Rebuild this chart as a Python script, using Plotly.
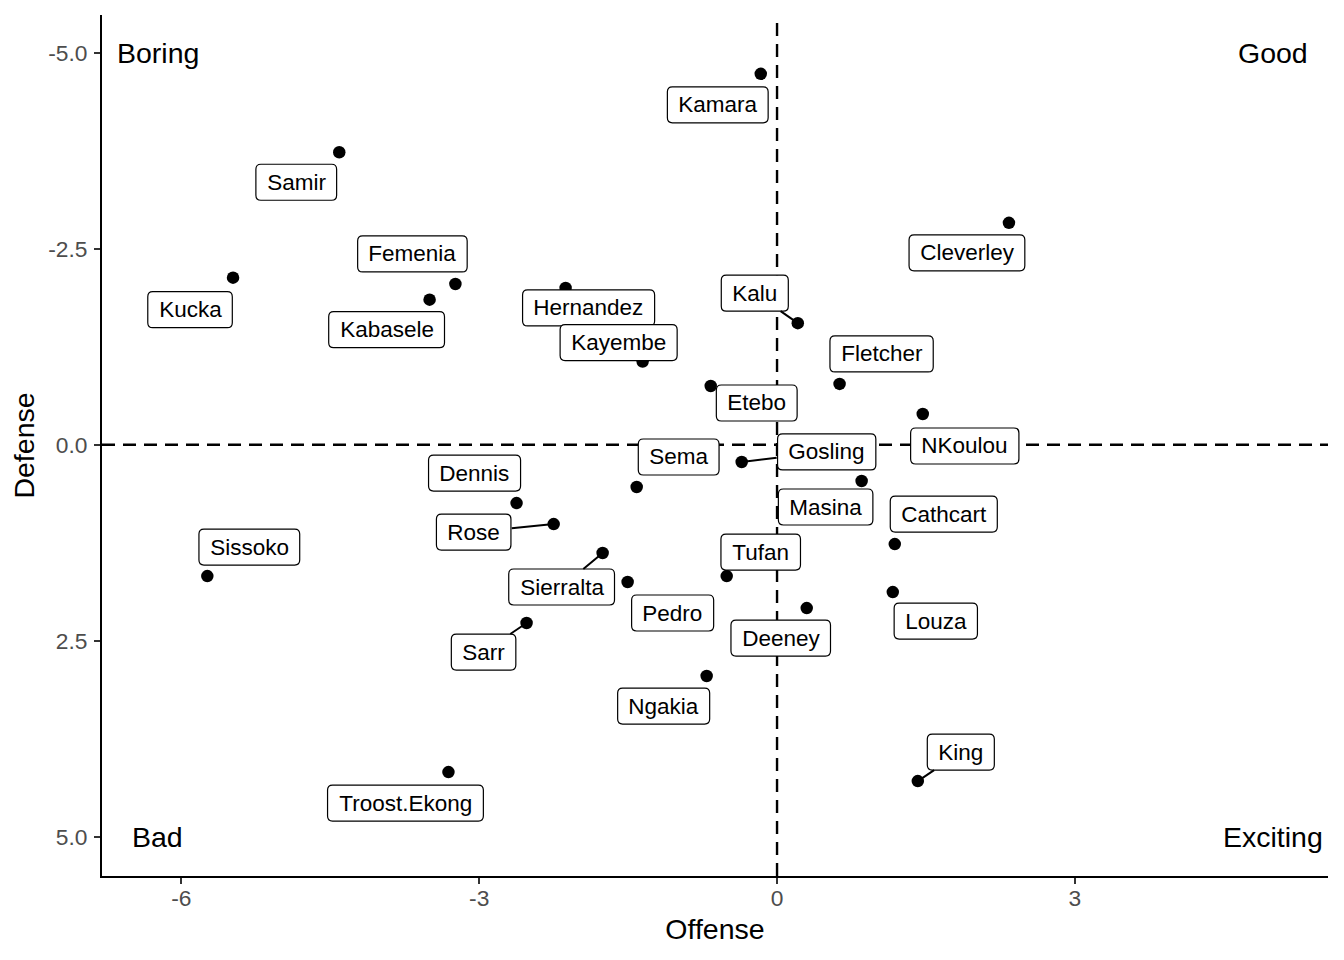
import plotly.graph_objects as go

# ---- data ----
players = ["Kamara", "Samir", "Cleverley", "Kucka", "Femenia", "Kabasele", "Hernandez",
           "Kalu", "Kayembe", "Fletcher", "Etebo", "NKoulou", "Gosling", "Masina", "Sema",
           "Dennis", "Rose", "Cathcart", "Sierralta", "Tufan", "Sissoko", "Pedro", "Louza",
           "Deeney", "Sarr", "Ngakia", "Troost.Ekong", "King"]
offense = [-0.164, -4.41, 2.336, -5.48, -3.24, -3.50, -2.13,
           0.209, -1.354, 0.63, -0.668, 1.468, -0.356, 0.852, -1.414,
           -2.624, -2.25, 1.186, -1.757, -0.507, -5.739, -1.505, 1.166,
           0.299, -2.523, -0.709, -3.31, 1.418]
defense = [-4.73, -3.73, -2.83, -2.13, -2.05, -1.85, -2.00,
           -1.55, -1.06, -0.775, -0.749, -0.392, 0.22, 0.463, 0.539,
           0.744, 1.012, 1.267, 1.381, 1.675, 1.675, 1.751, 1.879,
           2.083, 2.274, 2.95, 4.175, 4.29]

quadrant_names = ["Boring", "Good", "Bad", "Exciting"]
quadrant_x = [-6.24, 5.0, -6.24, 5.0]
quadrant_y = [-5.0, -5.0, 5.0, 5.0]

x_ticks = [-6, -3, 0, 3]
y_ticks = [-5.0, -2.5, 0.0, 2.5, 5.0]
y_ticktext = ["-5.0", "-2.5", "0.0", "2.5", "5.0"]

# ---- label placement (pixel offsets of label centre from its point, repel-style) ----
label_dx = [-43, -43, -42, -43, -43, -43, 23,
            -43, -24, 42, 46, 42, 85, -36, 42,
            -42, -80, 49, -41, 34, 42, 45, 43,
            -26, -43, -43, -43, 43]
label_dy = [31, 30, 30, 32, -30, 30, 20,
            -30, -19, -30, 17, 32, -10, 26, -30,
            -30, 8, -30, 34, -24, -29, 31, 29,
            30, 29, 30, 31, -29]
segment_players = {"Kalu", "Gosling", "Rose", "Sierralta", "Sarr", "King"}

FONT = "Liberation Sans, Arial, Helvetica, sans-serif"
LABEL_SIZE = 22.5
NB = "\u00a0"

# Arial / Liberation Sans advance widths (1/1000 em) for label box sizing
CHAR_W = {
    "C": 722, "D": 722, "E": 667, "F": 611, "G": 778, "H": 722, "K": 667, "L": 556,
    "M": 833, "N": 722, "P": 667, "R": 722, "S": 667, "T": 611,
    "a": 556, "b": 556, "c": 500, "d": 556, "e": 556, "f": 278, "g": 556, "h": 556,
    "i": 222, "k": 500, "l": 222, "m": 833, "n": 556, "o": 556, "p": 556, "r": 333,
    "s": 500, "t": 278, "u": 556, "v": 500, "y": 500, "z": 500, ".": 278,
}


def text_width(s, size):
    return sum(CHAR_W.get(c, 556) for c in s) / 1000.0 * size


def rounded_rect_path(cx, cy, w, h, r):
    x0, x1 = cx - w / 2, cx + w / 2
    y0, y1 = cy - h / 2, cy + h / 2
    return (f"M{x0 + r},{y0} L{x1 - r},{y0} Q{x1},{y0} {x1},{y0 + r} "
            f"L{x1},{y1 - r} Q{x1},{y1} {x1 - r},{y1} "
            f"L{x0 + r},{y1} Q{x0},{y1} {x0},{y1 - r} "
            f"L{x0},{y0 + r} Q{x0},{y0} {x0 + r},{y0} Z")


fig = go.Figure()
fig.add_trace(go.Scatter(
    x=offense, y=defense, mode="markers",
    marker=dict(color="black", size=12.5),
    hoverinfo="text", text=players, showlegend=False,
))

shapes = [
    dict(type="line", xref="x", yref="paper", x0=0, x1=0, y0=0, y1=1,
         line=dict(color="black", width=2.4, dash="13px,8px"), layer="below"),
    dict(type="line", xref="paper", yref="y", x0=0, x1=1, y0=0, y1=0,
         line=dict(color="black", width=2.4, dash="13px,8px"), layer="below"),
]

annotations = []
for name, xv, yv, dx, dy in zip(players, offense, defense, label_dx, label_dy):
    seg = name in segment_players
    w = text_width(name, LABEL_SIZE) + 22
    h = 36
    # rounded label box (pixel-sized, anchored at the data point)
    shapes.append(dict(
        type="path", xref="x", yref="y", xsizemode="pixel", ysizemode="pixel",
        xanchor=xv, yanchor=yv,
        path=rounded_rect_path(dx, -dy, w, h, 5),
        fillcolor="white", line=dict(color="black", width=1.2), layer="above",
    ))
    annotations.append(dict(
        x=xv, y=yv, xref="x", yref="y",
        text=NB + name + NB,
        showarrow=True, arrowhead=0, arrowwidth=2, standoff=0,
        arrowcolor="black" if seg else "rgba(0,0,0,0)",
        ax=dx, ay=dy, axref="pixel", ayref="pixel",
        font=dict(family=FONT, size=LABEL_SIZE, color="black"),
        bgcolor="rgba(0,0,0,0)", bordercolor="rgba(0,0,0,0)", borderwidth=1, borderpad=5,
        xanchor="center", yanchor="middle",
    ))

for name, xv, yv in zip(quadrant_names, quadrant_x, quadrant_y):
    annotations.append(dict(
        x=xv, y=yv, xref="x", yref="y", text=name, showarrow=False,
        font=dict(family=FONT, size=28.5, color="black"),
        xanchor="center", yanchor="middle",
    ))

axis_common = dict(
    showgrid=False, zeroline=False, showline=True, linecolor="black", linewidth=2,
    ticks="outside", ticklen=6, tickwidth=2, tickcolor="#333333",
    tickfont=dict(family=FONT, size=22.8, color="#4D4D4D"),
)

fig.update_layout(
    width=1344, height=960,
    margin=dict(l=94, r=24, t=7, b=92),
    paper_bgcolor="white", plot_bgcolor="white",
    font=dict(family=FONT, color="black"),
    xaxis=dict(range=[-6.80, 5.55], tickvals=x_ticks, ticktext=[str(v) for v in x_ticks],
               ticklabelstandoff=-5,
               title=dict(text="Offense", font=dict(family=FONT, size=28.5, color="black"),
                          standoff=9),
               **axis_common),
    yaxis=dict(range=[5.50, -5.48], tickvals=y_ticks, ticktext=y_ticktext,
               ticklabelstandoff=2,
               title=dict(text="Defense", font=dict(family=FONT, size=28.5, color="black"),
                          standoff=5),
               **axis_common),
    annotations=annotations,
    shapes=shapes,
    showlegend=False,
)

fig.write_html("out.html", config={"displayModeBar": False})
